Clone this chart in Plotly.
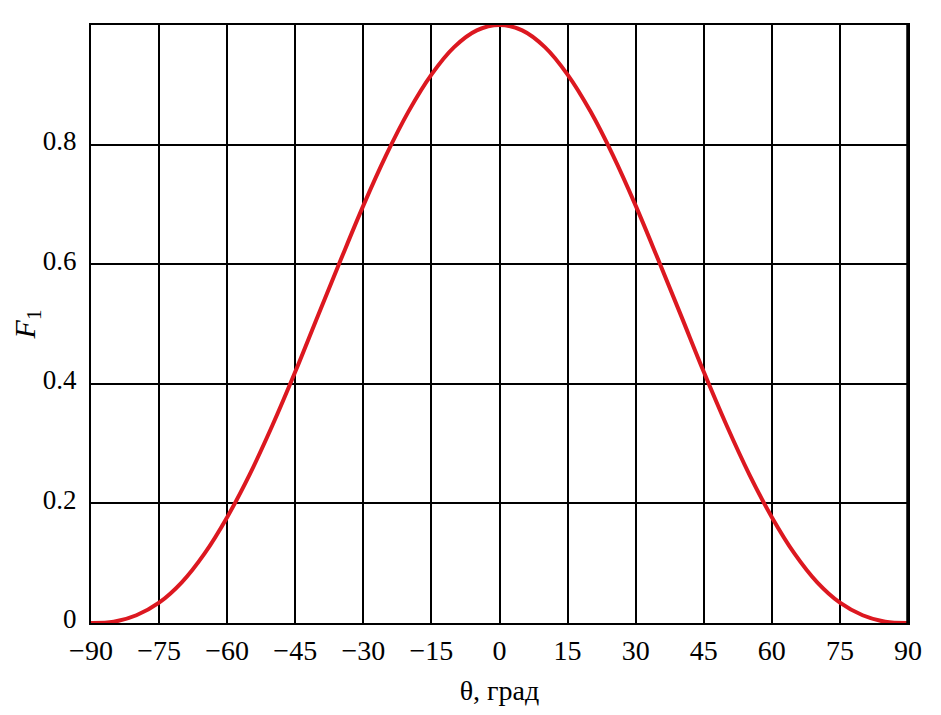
import plotly.graph_objects as go

theta_deg = [-90, -85, -80, -75, -70, -65, -60, -55, -50, -45, -40, -35, -30, -25, -20, -15, -10, -5,
             0, 5, 10, 15, 20, 25, 30, 35, 40, 45, 50, 55, 60, 65, 70, 75, 80, 85, 90]
f1_values = [0.0, 0.002, 0.013, 0.034, 0.068, 0.116, 0.177, 0.249, 0.331, 0.420, 0.514, 0.607, 0.698,
             0.782, 0.856, 0.917, 0.963, 0.991,
             1.0, 0.991, 0.963, 0.917, 0.856, 0.782, 0.698, 0.607, 0.514, 0.420, 0.331, 0.249, 0.177,
             0.116, 0.068, 0.034, 0.013, 0.002, 0.0]

x_ticks = [-90, -75, -60, -45, -30, -15, 0, 15, 30, 45, 60, 75, 90]
x_tick_labels = ["\u221290", "\u221275", "\u221260", "\u221245", "\u221230", "\u221215", "0",
                 "15", "30", "45", "60", "75", "90"]
y_ticks = [0, 0.2, 0.4, 0.6, 0.8]
y_tick_labels = ["0", "0.2", "0.4", "0.6", "0.8"]

font_family = "Liberation Serif"

fig = go.Figure()
fig.add_trace(go.Scatter(
    x=theta_deg, y=f1_values, mode="lines",
    line=dict(color="#dc1820", width=4, shape="spline"),
    showlegend=False,
))

# thicker right frame edge, as in the reference
fig.add_shape(type="line", xref="paper", yref="paper", x0=1, x1=1, y0=0, y1=1,
              line=dict(color="black", width=3.5))

fig.update_layout(
    width=925, height=699,
    margin=dict(l=83, r=25, t=17, b=84),
    paper_bgcolor="white", plot_bgcolor="white",
    font=dict(family=font_family, size=27, color="black"),
)
fig.update_xaxes(
    range=[-90, 90], tickvals=x_ticks, ticktext=x_tick_labels,
    tickfont=dict(size=28), automargin=False,
    showgrid=True, gridcolor="black", gridwidth=2,
    showline=True, linecolor="black", linewidth=2, mirror=True,
    zeroline=False, ticks="", ticklabelstandoff=1,
    title=dict(text="\u03b8, град", font=dict(family=font_family, size=28), standoff=16),
)
fig.update_yaxes(
    range=[0, 1], tickvals=y_ticks, ticktext=y_tick_labels,
    tickfont=dict(size=27), automargin=False,
    showgrid=True, gridcolor="black", gridwidth=2,
    showline=True, linecolor="black", linewidth=2, mirror=True,
    zeroline=False, ticks="", ticklabelstandoff=7, ticklabelshift=-4,
    title=dict(text="<i>F</i><sub>1</sub>", font=dict(family=font_family, size=30), standoff=10),
)

fig.write_html("out.html")
